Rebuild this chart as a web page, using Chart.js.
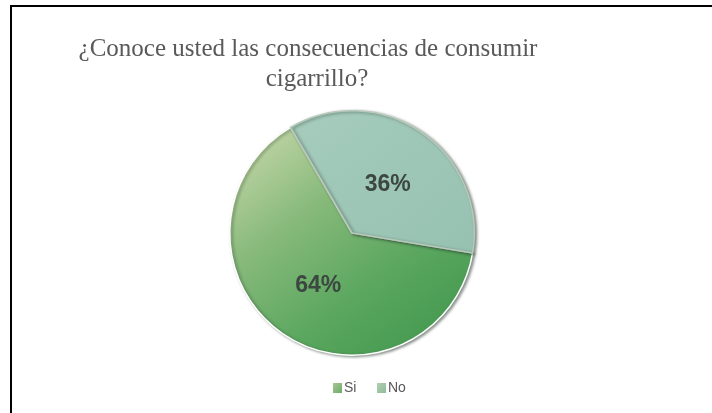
<!DOCTYPE html>
<html>
<head>
<meta charset="utf-8">
<script src="https://cdn.jsdelivr.net/npm/chart.js@4/dist/chart.umd.min.js"></script>
<style>
  html, body { margin: 0; padding: 0; background: #ffffff; }
  #wrap { width: 712px; height: 413px; position: relative; }
</style>
</head>
<body>
<div id="wrap"><canvas id="c" width="712" height="413"></canvas></div>
<script>
// Survey answers and their shares (percent)
const categories = ['Si', 'No'];
const values = [64, 36];
const titleLines = ['¿Conoce usted las consecuencias de consumir', 'cigarrillo?'];

// Slice fills: a soft diagonal gradient for each answer
function sliceFill(ctx) {
  const chart = ctx.chart;
  const area = chart.chartArea;
  if (!area) return '#7cb572';
  const g = chart.ctx.createLinearGradient(area.left + 30, area.top + 20, area.right - 50, area.bottom - 10);
  if (ctx.dataIndex === 0) {
    g.addColorStop(0, '#c2d5a6');
    g.addColorStop(0.35, '#86b97a');
    g.addColorStop(0.7, '#5ba75f');
    g.addColorStop(1, '#469a51');
  } else {
    g.addColorStop(0, '#a6ccbd');
    g.addColorStop(1, '#93bfae');
  }
  return g;
}

// Frame, title, slice labels and legend
const decorations = {
  id: 'decorations',
  beforeDraw(chart) {
    const c = chart.ctx;
    c.save();
    c.fillStyle = '#ffffff';
    c.fillRect(0, 0, chart.width, chart.height);
    c.strokeStyle = '#000000';
    c.lineWidth = 2;
    c.beginPath();
    c.moveTo(11, chart.height + 2);
    c.lineTo(11, 6);
    c.lineTo(chart.width + 2, 6);
    c.stroke();

    c.fillStyle = '#595959';
    c.font = '25px "Liberation Serif", "Times New Roman", serif';
    c.textAlign = 'center';
    c.textBaseline = 'alphabetic';
    c.fillText(titleLines[0], 308, 56);
    c.fillText(titleLines[1], 317, 86);
    c.restore();
  },
  beforeDatasetsDraw(chart) {
    const c = chart.ctx;
    c.save();
    c.shadowColor = 'rgba(40,60,45,0.55)';
    c.shadowBlur = 3;
    c.shadowOffsetX = 2;
    c.shadowOffsetY = 1;
  },
  afterDatasetsDraw(chart) {
    const c = chart.ctx;
    c.restore();
    const meta = chart.getDatasetMeta(0);
    c.save();
    c.font = 'bold 23px "Liberation Sans", Arial, sans-serif';
    c.fillStyle = '#3b4740';
    c.textAlign = 'center';
    c.textBaseline = 'middle';
    meta.data.forEach((arc, i) => {
      const p = arc.tooltipPosition();
      c.fillText(values[i] + '%', p.x + 1, p.y + 2);
    });

    // legend
    c.font = '14px "Liberation Sans", Arial, sans-serif';
    c.textAlign = 'left';
    c.textBaseline = 'middle';
    const legendX = [333, 377];
    const legendColors = [['#a9c796', '#6fae68'], ['#b3cfae', '#8fbd9f']];
    categories.forEach((name, i) => {
      const x = legendX[i], y = 383;
      const g = c.createLinearGradient(x, y, x + 9, y + 9);
      g.addColorStop(0, legendColors[i][0]);
      g.addColorStop(1, legendColors[i][1]);
      c.fillStyle = g;
      c.fillRect(x, y, 9, 10);
      c.fillStyle = '#595959';
      c.fillText(name, x + 11, y + 5);
    });
    c.restore();
  }
};

new Chart(document.getElementById('c'), {
  type: 'pie',
  data: {
    labels: categories,
    datasets: [{
      data: values,
      backgroundColor: sliceFill,
      borderColor: ['#ffffff', '#b9c9bc'],
      borderWidth: 1.5
    }]
  },
  options: {
    responsive: false,
    animation: false,
    rotation: 99.4,
    layout: { padding: { top: 110, bottom: 57, left: 229, right: 237 } },
    plugins: {
      legend: { display: false },
      title: { display: false },
      tooltip: { enabled: false }
    }
  },
  plugins: [decorations]
});
</script>
</body>
</html>
